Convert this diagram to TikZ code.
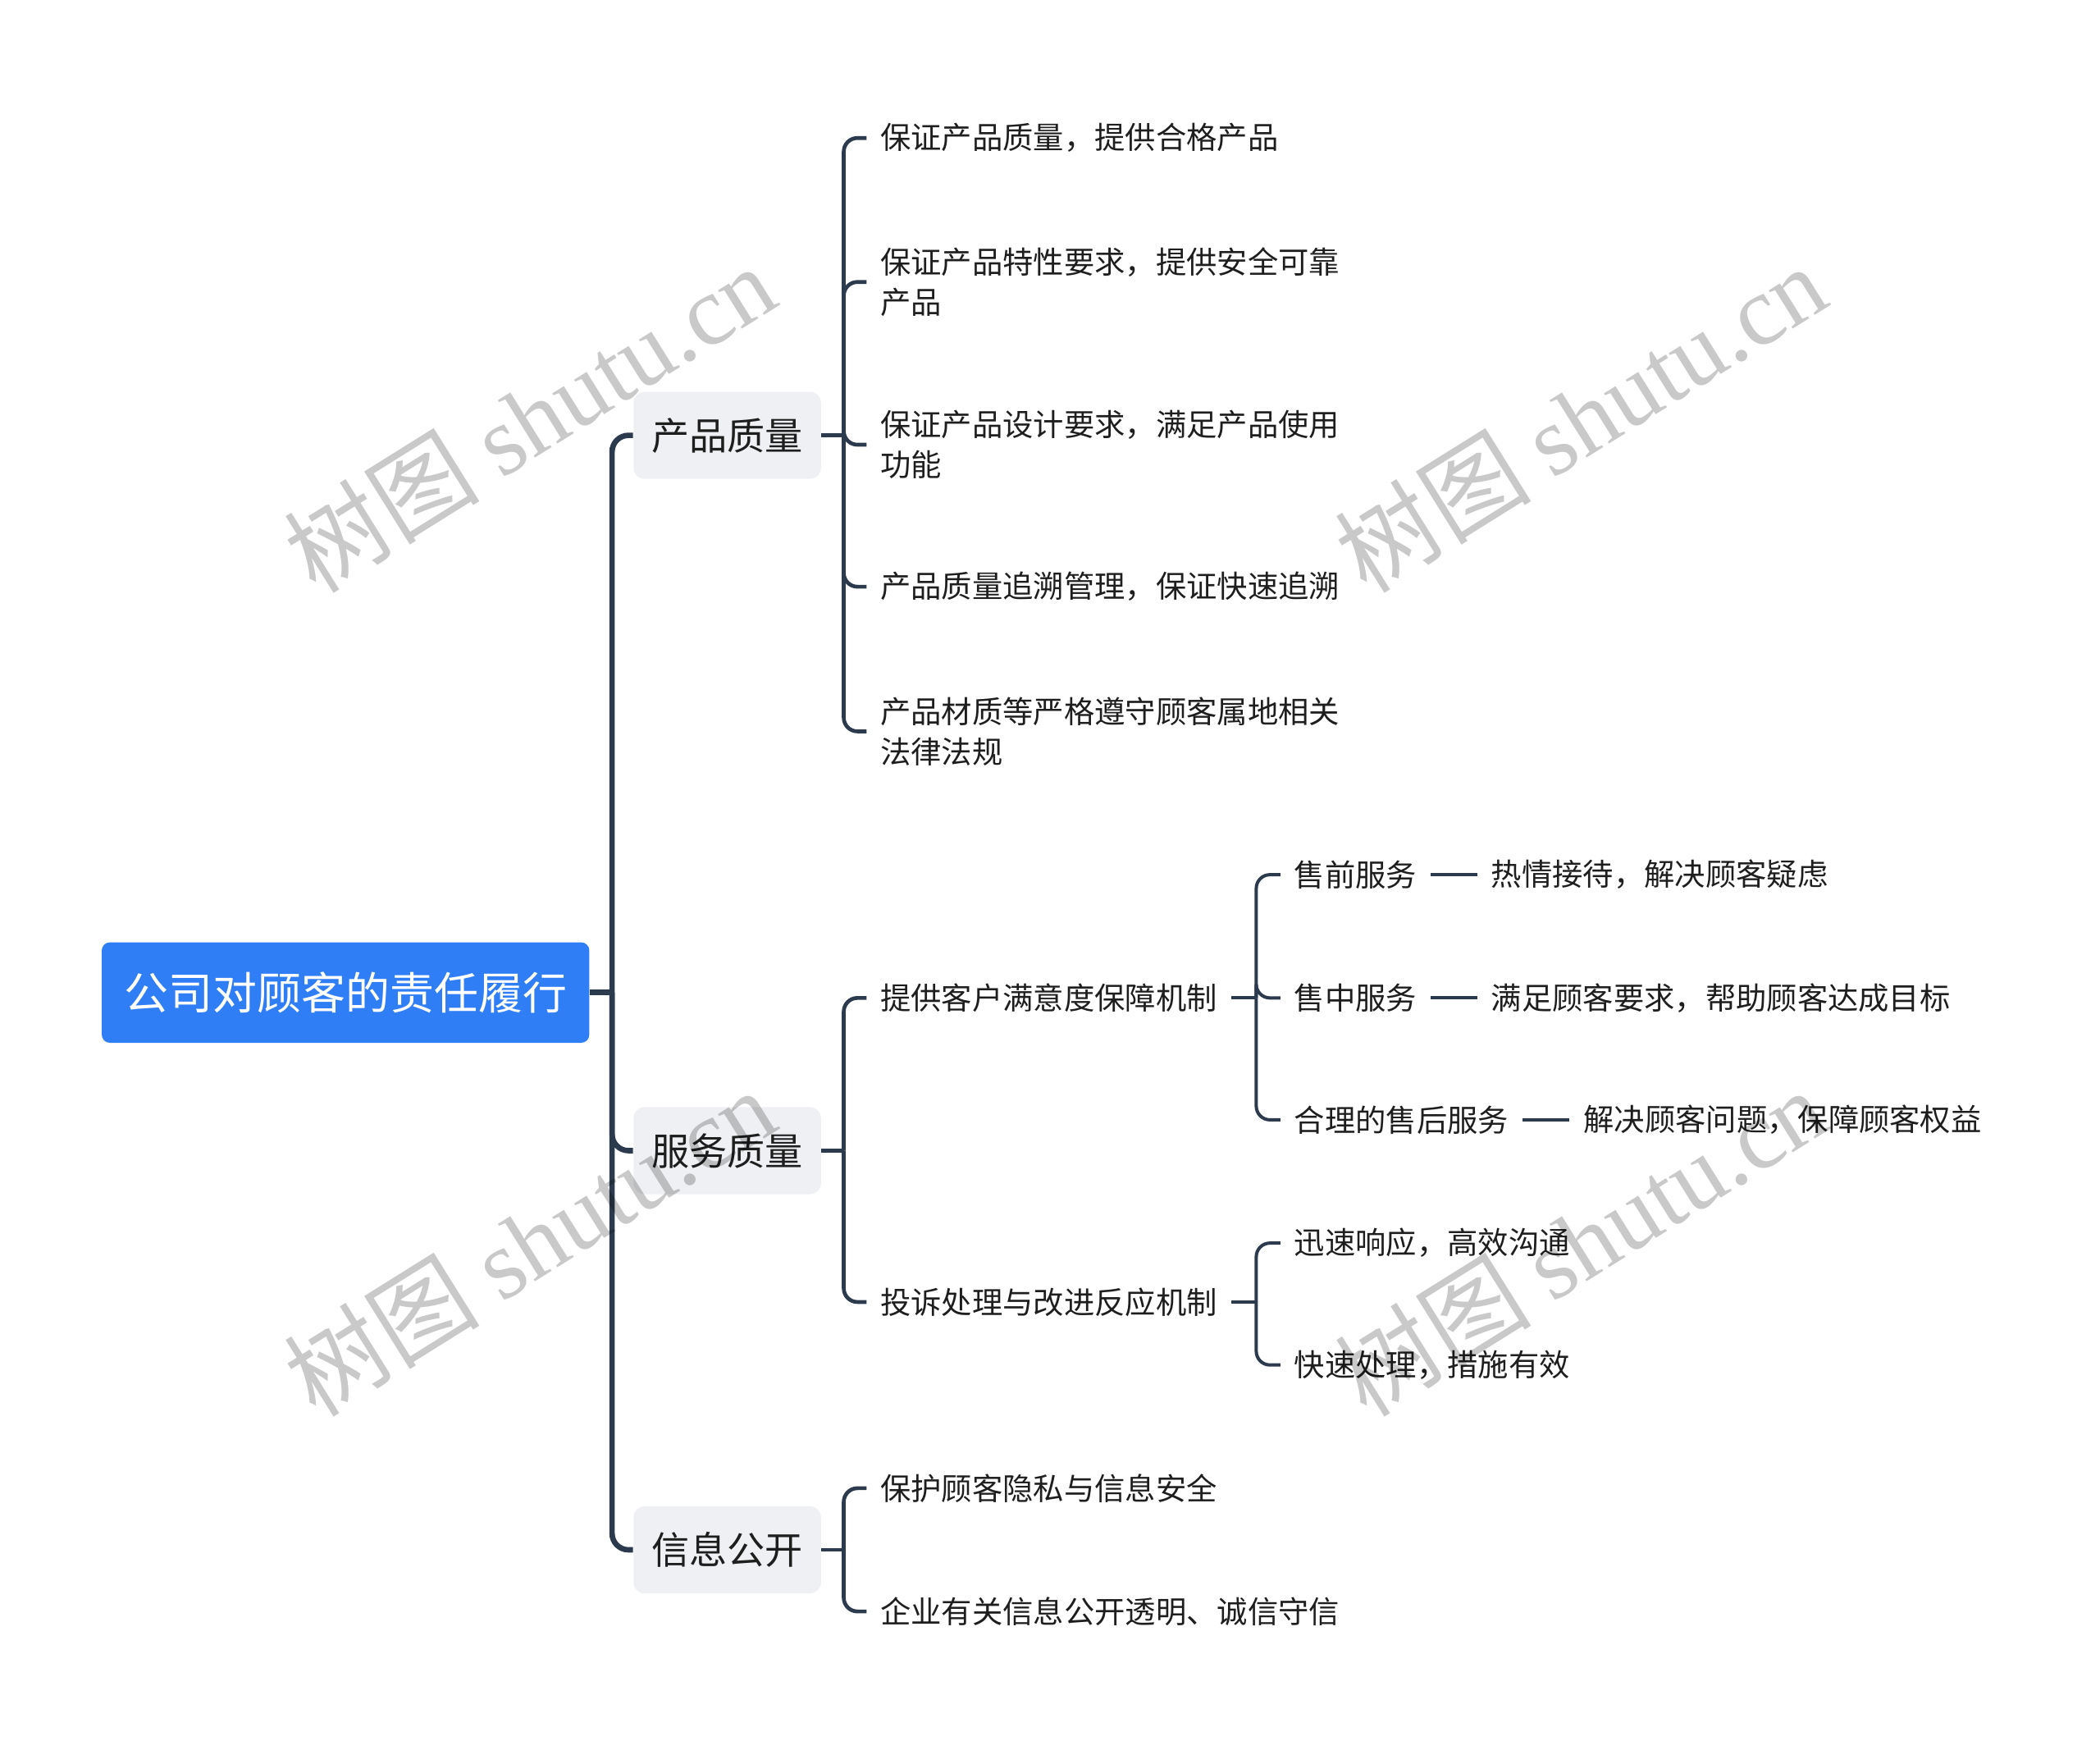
\documentclass[tikz,border=0pt]{standalone}
\usepackage{fontspec}
\setmainfont{Noto Sans CJK SC}
\newfontfamily\wmlatin{Liberation Serif}
\usetikzlibrary{calc}
\definecolor{linecol}{HTML}{2C3A4D}
\definecolor{rootblue}{HTML}{2F7EF6}
\definecolor{lonefill}{HTML}{EEF0F3}
\definecolor{leafcol}{HTML}{1E1E1E}
\tikzset{
  rootbox/.style={fill=rootblue, text=white, rounded corners=3pt, minimum width=178.4pt, minimum height=36.75pt, inner sep=0pt, font=\fontsize{16.2}{19}\selectfont},
  lonebox/.style={fill=lonefill, text=leafcol, rounded corners=4pt, minimum width=68.6pt, minimum height=31.85pt, inner sep=0pt, font=\fontsize{13.85}{16}\selectfont},
  leaf/.style={anchor=west, align=left, text=leafcol, inner xsep=4.9pt, inner ysep=2pt, font=\fontsize{11.2}{14.7}\selectfont},
  trunk/.style={draw=linecol, line width=2pt, rounded corners=6pt},
  conn/.style={draw=linecol, line width=1.4pt, rounded corners=5pt},
  connb/.style={draw=linecol, line width=1.2pt, rounded corners=5pt},
  wm/.style={text=black, text opacity=0.21, rotate=32, font=\fontsize{36}{38}\selectfont, inner sep=0pt}
}
\begin{document}
\begin{tikzpicture}[x=0.49pt, y=-0.49pt]
\useasboundingbox (0,0) rectangle (1568,1306);

% root and level 1
\node[rootbox] (root) at (258,741) {公司对顾客的责任履行};
\node[lonebox] (cp) at (543,325) {产品质量};
\node[lonebox] (fw) at (543,859) {服务质量};
\node[lonebox] (xx) at (543,1157) {信息公开};

\coordinate (j0) at (457,741);
\draw[trunk] (root.east) -- (j0);
\draw[trunk] (j0) |- (cp.west);
\draw[trunk] (j0) |- (fw.west);
\draw[trunk] (j0) |- (xx.west);

% product quality leaves
\node[leaf] (cp1) at (647,103) {保证产品质量，提供合格产品};
\node[leaf] (cp2) at (647,210.5) {保证产品特性要求，提供安全可靠\\产品};
\node[leaf] (cp3) at (647,332) {保证产品设计要求，满足产品使用\\功能};
\node[leaf] (cp4) at (647,438) {产品质量追溯管理，保证快速追溯};
\node[leaf] (cp5) at (647,546) {产品材质等严格遵守顾客属地相关\\法律法规};
\coordinate (jcp) at (630,325);
\draw[conn] (cp.east) -- (jcp);
\foreach \c in {cp1,cp2,cp3,cp4,cp5} { \draw[conn] (jcp) |- (\c.west); }

% service quality
\node[leaf] (fw1) at (647,745) {提供客户满意度保障机制};
\node[leaf] (fw2) at (647,972) {投诉处理与改进反应机制};
\coordinate (jfw) at (630,859);
\draw[conn] (fw.east) -- (jfw);
\draw[conn] (jfw) |- (fw1.west);
\draw[conn] (jfw) |- (fw2.west);

\node[leaf] (s1) at (956,653) {售前服务};
\node[leaf] (s2) at (956,745) {售中服务};
\node[leaf] (s3) at (956,836) {合理的售后服务};
\coordinate (jfw1) at (938,745);
\draw[connb] (fw1.east) -- (jfw1);
\draw[connb] (jfw1) |- (s1.west);
\draw[connb] (jfw1) |- (s2.west);
\draw[connb] (jfw1) |- (s3.west);

\node[leaf] (d1) at (1103,653) {热情接待，解决顾客疑虑};
\node[leaf] (d2) at (1103,745) {满足顾客要求，帮助顾客达成目标};
\node[leaf] (d3) at (1172,836) {解决顾客问题，保障顾客权益};
\draw[connb] (s1.east) -- (d1.west);
\draw[connb] (s2.east) -- (d2.west);
\draw[connb] (s3.east) -- (d3.west);

\node[leaf] (t1) at (956,928) {迅速响应，高效沟通};
\node[leaf] (t2) at (956,1019) {快速处理，措施有效};
\coordinate (jfw2) at (938,972);
\draw[connb] (fw2.east) -- (jfw2);
\draw[connb] (jfw2) |- (t1.west);
\draw[connb] (jfw2) |- (t2.west);

% information disclosure
\node[leaf] (xx1) at (647,1111) {保护顾客隐私与信息安全};
\node[leaf] (xx2) at (647,1203) {企业有关信息公开透明、诚信守信};
\coordinate (jxx) at (630,1157);
\draw[conn] (xx.east) -- (jxx);
\draw[conn] (jxx) |- (xx1.west);
\draw[conn] (jxx) |- (xx2.west);

% watermarks (semi-transparent, on top)
\node[wm] (wm1) at (395,312) {树图 {\wmlatin shutu.cn}};
\node[wm] (wm2) at (1180,312) {树图 {\wmlatin shutu.cn}};
\node[wm] (wm3) at (395,927) {树图 {\wmlatin shutu.cn}};
\node[wm] (wm4) at (1180,927) {树图 {\wmlatin shutu.cn}};
\end{tikzpicture}
\end{document}
